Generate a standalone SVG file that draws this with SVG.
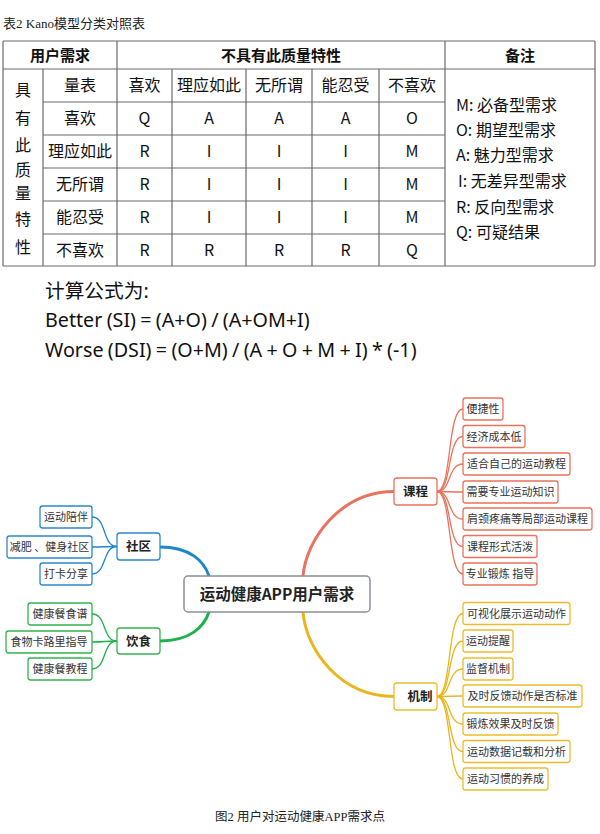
<svg xmlns="http://www.w3.org/2000/svg" width="600" height="834" viewBox="0 0 600 834">
<style>
.cap{font-family:"Liberation Serif","Noto Sans CJK SC",serif;fill:#222}
.tb{font-family:"Noto Sans CJK SC","Noto Sans",sans-serif;font-size:16px;fill:#111;text-anchor:middle}
.tbh{font-weight:bold;font-size:15px}
.nt{font-family:"Noto Sans CJK SC","Noto Sans",sans-serif;font-size:16px;fill:#111}
.fm{font-family:"Noto Sans","Noto Sans CJK SC",sans-serif;font-size:19.7px;word-spacing:-0.8px;fill:#111}
.grid line{stroke:#6a6a6a;stroke-width:1.2}
.lf{font-family:"Noto Sans CJK SC","Noto Sans",sans-serif;font-size:11px;fill:#333;text-anchor:middle}
.ct{font-family:"Noto Sans CJK SC","Noto Sans",sans-serif;font-size:12.5px;font-weight:bold;fill:#222;text-anchor:middle}
.rb{fill:#fff;stroke:#e8735e;stroke-width:1.3}
.yb{fill:#fff;stroke:#ebbd2e;stroke-width:1.3}
.bb{fill:#fff;stroke:#2b88cc;stroke-width:1.3}
.gb{fill:#fff;stroke:#33b34f;stroke-width:1.3}
.conn path{fill:none;stroke-linecap:round}
.r{stroke:#e8735e}.y{stroke:#ebb51e}.b{stroke:#1f86c8}.g{stroke:#1db14b}
.thin{stroke-width:1.3}.thick{stroke-width:3}
</style>
<rect width="600" height="834" fill="#fff"/>

<g id="table">
<text class="cap" x="3" y="28" font-size="13">表2 Kano模型分类对照表</text>
<g class="grid">
<line x1="3" y1="41" x2="595" y2="41"/>
<line x1="3" y1="69" x2="595" y2="69"/>
<line x1="43" y1="102" x2="445" y2="102"/>
<line x1="43" y1="135" x2="445" y2="135"/>
<line x1="43" y1="168" x2="445" y2="168"/>
<line x1="43" y1="201" x2="445" y2="201"/>
<line x1="43" y1="234" x2="445" y2="234"/>
<line x1="3" y1="266" x2="595" y2="266"/>
<line x1="3" y1="41" x2="3" y2="266"/>
<line x1="117" y1="41" x2="117" y2="266"/>
<line x1="445" y1="41" x2="445" y2="266"/>
<line x1="595" y1="41" x2="595" y2="266"/>
<line x1="43" y1="69" x2="43" y2="266"/>
<line x1="172" y1="69" x2="172" y2="266"/>
<line x1="246" y1="69" x2="246" y2="266"/>
<line x1="312" y1="69" x2="312" y2="266"/>
<line x1="379" y1="69" x2="379" y2="266"/>
</g>
<text class="tb tbh" x="60" y="61">用户需求</text>
<text class="tb tbh" x="281" y="61">不具有此质量特性</text>
<text class="tb tbh" x="520" y="61">备注</text>
<g class="tb">
<text x="23" y="96">具</text>
<text x="23" y="124">有</text>
<text x="23" y="151">此</text>
<text x="23" y="176">质</text>
<text x="23" y="199">量</text>
<text x="23" y="225">特</text>
<text x="23" y="253">性</text>
<text x="80" y="91">量表</text><text x="144.5" y="91">喜欢</text><text x="209" y="91">理应如此</text><text x="279" y="91">无所谓</text><text x="345.5" y="91">能忍受</text><text x="412" y="91">不喜欢</text>
<text x="80" y="124">喜欢</text><text x="144.5" y="124">Q</text><text x="209" y="124">A</text><text x="279" y="124">A</text><text x="345.5" y="124">A</text><text x="412" y="124">O</text>
<text x="80" y="157">理应如此</text><text x="144.5" y="157">R</text><text x="209" y="157">I</text><text x="279" y="157">I</text><text x="345.5" y="157">I</text><text x="412" y="157">M</text>
<text x="80" y="190">无所谓</text><text x="144.5" y="190">R</text><text x="209" y="190">I</text><text x="279" y="190">I</text><text x="345.5" y="190">I</text><text x="412" y="190">M</text>
<text x="80" y="223">能忍受</text><text x="144.5" y="223">R</text><text x="209" y="223">I</text><text x="279" y="223">I</text><text x="345.5" y="223">I</text><text x="412" y="223">M</text>
<text x="80" y="256">不喜欢</text><text x="144.5" y="256">R</text><text x="209" y="256">R</text><text x="279" y="256">R</text><text x="345.5" y="256">R</text><text x="412" y="256">Q</text>
</g>
<g class="nt">
<text x="456" y="111">M: 必备型需求</text>
<text x="456" y="136">O: 期望型需求</text>
<text x="456" y="161">A: 魅力型需求</text>
<text x="458" y="187">I: 无差异型需求</text>
<text x="456" y="213">R: 反向型需求</text>
<text x="456" y="238">Q: 可疑结果</text>
</g>
</g>

<g id="formula" class="fm">
<text x="45" y="298">计算公式为:</text>
<text x="45" y="327">Better (SI) = (A+O) / (A+OM+I)</text>
<text x="45" y="357">Worse (DSI) = (O+M) / (A + O + M + I) * (-1)</text>
</g>

<g id="connectors" class="conn">
<path class="b thick" d="M160,547 C190,547 204,561 209,576"/>
<path class="g thick" d="M160,641 C190,641 204,627 209,612"/>
<path class="r thick" d="M303,576 C306,540 340,491.5 394,491.5"/>
<path class="y thick" d="M303,612 C306,650 340,696.5 394,696.5"/>
<path class="r thin" d="M437,491.5 C452,491.5 447,409 463,409"/>
<path class="r thin" d="M437,491.5 C452,491.5 447,436.5 463,436.5"/>
<path class="r thin" d="M437,491.5 C452,491.5 447,464 463,464"/>
<path class="r thin" d="M437,491.5 C452,491.5 447,492 463,492"/>
<path class="r thin" d="M437,491.5 C452,491.5 447,519 463,519"/>
<path class="r thin" d="M437,491.5 C452,491.5 447,546.5 463,546.5"/>
<path class="r thin" d="M437,491.5 C452,491.5 447,574 463,574"/>
<path class="y thin" d="M437,696.5 C452,696.5 447,613.5 463,613.5"/>
<path class="y thin" d="M437,696.5 C452,696.5 447,641 463,641"/>
<path class="y thin" d="M437,696.5 C452,696.5 447,669 463,669"/>
<path class="y thin" d="M437,696.5 C452,696.5 447,696 463,696"/>
<path class="y thin" d="M437,696.5 C452,696.5 447,724 463,724"/>
<path class="y thin" d="M437,696.5 C452,696.5 447,751.5 463,751.5"/>
<path class="y thin" d="M437,696.5 C452,696.5 447,779 463,779"/>
<path class="b thin" d="M117,546.5 C102,546.5 107,517 92,517"/>
<path class="b thin" d="M117,546.5 C102,546.5 107,547 92,547"/>
<path class="b thin" d="M117,546.5 C102,546.5 107,574 92,574"/>
<path class="g thin" d="M117,641 C102,641 107,614 92,614"/>
<path class="g thin" d="M117,641 C102,641 107,642 92,642"/>
<path class="g thin" d="M117,641 C102,641 107,669 92,669"/>
</g>

<g id="center">
<rect x="184" y="576" width="186" height="36" rx="4" fill="#fff" stroke="#8a9098" stroke-width="1.5"/>
<text x="277" y="599.5" font-family="'Noto Sans CJK SC','Noto Sans',sans-serif" font-size="15.5" font-weight="bold" fill="#222" text-anchor="middle">运动健康APP用户需求</text>
</g>

<g id="kecheng"><rect class="rb" x="394" y="478" width="43" height="27" rx="3"/><text class="ct" x="415.5" y="496">课程</text></g>
<g id="jizhi"><rect class="yb" x="394" y="683" width="43" height="27" rx="3"/><text class="ct" x="420" y="701">机制</text></g>
<g id="shequ"><rect class="bb" x="117" y="533" width="43" height="27" rx="3"/><text class="ct" x="138.5" y="551">社区</text></g>
<g id="yinshi"><rect class="gb" x="117" y="628" width="43" height="26" rx="3"/><text class="ct" x="138.5" y="645.5">饮食</text></g>

<g id="k1"><rect class="rb" x="463" y="398" width="40" height="22" rx="2.5"/><text class="lf" x="483" y="413">便捷性</text></g>
<g id="k2"><rect class="rb" x="463" y="425.5" width="62" height="22" rx="2.5"/><text class="lf" x="494" y="440.5">经济成本低</text></g>
<g id="k3"><rect class="rb" x="463" y="453" width="107" height="22" rx="2.5"/><text class="lf" x="516.5" y="468">适合自己的运动教程</text></g>
<g id="k4"><rect class="rb" x="463" y="481" width="95" height="22" rx="2.5"/><text class="lf" x="510.5" y="496">需要专业运动知识</text></g>
<g id="k5"><rect class="rb" x="463" y="508" width="129" height="22" rx="2.5"/><text class="lf" x="527.5" y="523">肩颈疼痛等局部运动课程</text></g>
<g id="k6"><rect class="rb" x="463" y="535.5" width="74" height="22" rx="2.5"/><text class="lf" x="500" y="550.5">课程形式活泼</text></g>
<g id="k7"><rect class="rb" x="463" y="563" width="74" height="22" rx="2.5"/><text class="lf" x="500" y="578">专业锻炼 指导</text></g>

<g id="j1"><rect class="yb" x="463" y="602.5" width="107" height="22" rx="2.5"/><text class="lf" x="516.5" y="617.5">可视化展示运动动作</text></g>
<g id="j2"><rect class="yb" x="463" y="630" width="50" height="22" rx="2.5"/><text class="lf" x="488" y="645">运动提醒</text></g>
<g id="j3"><rect class="yb" x="463" y="658" width="50" height="22" rx="2.5"/><text class="lf" x="488" y="673">监督机制</text></g>
<g id="j4"><rect class="yb" x="463" y="685" width="119" height="22" rx="2.5"/><text class="lf" x="522.5" y="700">及时反馈动作是否标准</text></g>
<g id="j5"><rect class="yb" x="463" y="713" width="95" height="22" rx="2.5"/><text class="lf" x="510.5" y="728">锻炼效果及时反馈</text></g>
<g id="j6"><rect class="yb" x="463" y="740.5" width="107" height="22" rx="2.5"/><text class="lf" x="516.5" y="755.5">运动数据记载和分析</text></g>
<g id="j7"><rect class="yb" x="463" y="768" width="85" height="22" rx="2.5"/><text class="lf" x="505.5" y="783">运动习惯的养成</text></g>

<g id="s1"><rect class="bb" x="40" y="506" width="52" height="22" rx="2.5"/><text class="lf" x="66" y="521">运动陪伴</text></g>
<g id="s2"><rect class="bb" x="7" y="536" width="85" height="22" rx="2.5"/><text class="lf" x="49.5" y="551">减肥 、健身社区</text></g>
<g id="s3"><rect class="bb" x="40" y="563" width="52" height="22" rx="2.5"/><text class="lf" x="66" y="578">打卡分享</text></g>

<g id="y1"><rect class="gb" x="28" y="603" width="64" height="22" rx="2.5"/><text class="lf" x="60" y="618">健康餐食谱</text></g>
<g id="y2"><rect class="gb" x="6" y="631" width="86" height="22" rx="2.5"/><text class="lf" x="49" y="646">食物卡路里指导</text></g>
<g id="y3"><rect class="gb" x="28" y="658" width="64" height="22" rx="2.5"/><text class="lf" x="60" y="673">健康餐教程</text></g>

<text class="cap" x="300" y="821" font-size="12.5" text-anchor="middle">图2 用户对运动健康APP需求点</text>
</svg>
